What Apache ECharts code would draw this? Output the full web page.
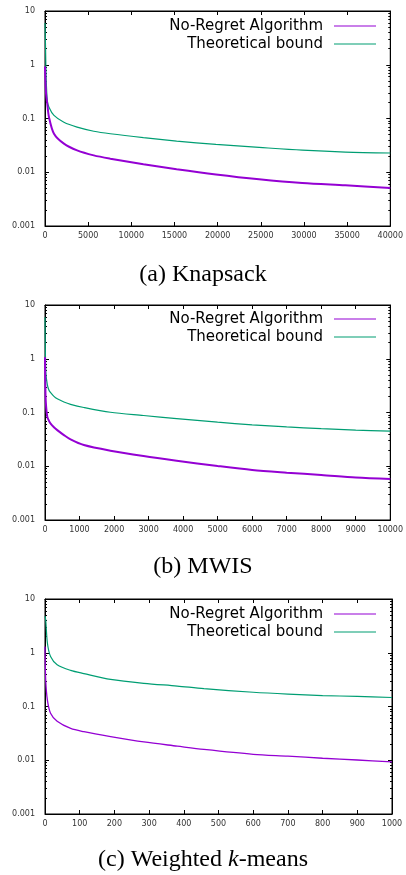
<!DOCTYPE html>
<html>
<head>
<meta charset="utf-8">
<script src="https://cdn.jsdelivr.net/npm/echarts@6/dist/echarts.min.js"></script>
<style>
  html, body { margin: 0; padding: 0; background: #fff; }
  #main { width: 406px; height: 875px; }
</style>
</head>
<body>
<div id="main"></div>
<script>
// (a) Knapsack
var knapT = [0, 60, 130, 265, 460, 1040, 2190, 3720, 5650, 7570, 11400, 15250, 19800, 24800, 29800, 34800, 40000];
var knapAlg = [0.93, 0.45, 0.28, 0.187, 0.106, 0.052, 0.034, 0.0255, 0.0206, 0.0179, 0.0141, 0.0114, 0.0091, 0.0074, 0.0063, 0.0057, 0.0051];
var knapBound = [6, 2.2, 0.6, 0.215, 0.162, 0.114, 0.085, 0.069, 0.058, 0.052, 0.044, 0.038, 0.033, 0.029, 0.0257, 0.0237, 0.0228];

// (b) MWIS
var mwisT = [0, 10, 25, 67, 115, 163, 259, 355, 548, 740, 1125, 1893, 2853, 3813, 5000, 6000, 7000, 8000, 9000, 10000];
var mwisAlg = [1.07, 0.3, 0.15, 0.083, 0.07, 0.062, 0.053, 0.047, 0.038, 0.0316, 0.0248, 0.0195, 0.0155, 0.0127, 0.0101, 0.0085, 0.0076, 0.0069, 0.0062, 0.0058];
var mwisBound = [5.9, 1.5, 0.55, 0.33, 0.26, 0.235, 0.2, 0.18, 0.157, 0.142, 0.124, 0.101, 0.088, 0.077, 0.066, 0.059, 0.054, 0.05, 0.047, 0.045];

// (c) Weighted k-means
var kmT = [0, 2, 7, 16, 35, 74, 112, 189, 285, 381, 458, 600, 700, 800, 900, 1000];
var kmAlg = [1.3, 0.31, 0.13, 0.075, 0.053, 0.039, 0.034, 0.0276, 0.0219, 0.0183, 0.0159, 0.0129, 0.0119, 0.0109, 0.0101, 0.0093];
var kmBound = [4.8, 4.1, 1.5, 0.85, 0.6, 0.47, 0.41, 0.32, 0.27, 0.24, 0.215, 0.184, 0.17, 0.16, 0.154, 0.147];

var seriesNames = ['No-Regret Algorithm', 'Theoretical bound'];
var xMax = [40000, 10000, 1000];
var xStep = [5000, 1000, 100];
var yMinorTicks = [];
[0.001, 0.01, 0.1, 1].forEach(function (d) {
	for (var k = 2; k <= 9; k++) yMinorTicks.push(Math.log10(d * k));
});
var captions = ['(a) Knapsack', '(b) MWIS', '(c) Weighted {i|k}-means'];

var panels = [
	{ t: knapT, alg: knapAlg, bound: knapBound },
	{ t: mwisT, alg: mwisAlg, bound: mwisBound },
	{ t: kmT, alg: kmAlg, bound: kmBound }
];

var gridTop = [11, 305, 599];
var legendTop = [18, 311, 606];
var captionTop = [263, 555, 848];

var myChart = echarts.init(document.getElementById('main'));

var tickFont = { fontFamily: 'DejaVu Sans', fontSize: 8, color: '#333' };

function pairs(t, v) {
	return t.map(function (x, i) { return [x, v[i]]; });
}

var grid = [], xAxis = [], yAxis = [], series = [], legend = [], title = [];

for (var g = 0; g < 3; g++) {
	grid.push({
		left: 45, right: 14, top: gridTop[g], height: 215,
		show: true, borderColor: '#000', borderWidth: 1
	});
	// bottom x
	xAxis.push({
		gridIndex: g, type: 'value', position: 'bottom',
		min: 0, max: xMax[g], interval: xStep[g],
		axisLine: { onZero: false, lineStyle: { color: '#000', width: 1 } },
		axisTick: { inside: true, length: 4, lineStyle: { color: '#000' } },
		axisLabel: Object.assign({
			margin: 6,
			formatter: function (v) { return String(v); }
		}, tickFont),
		splitLine: { show: false }
	});
	// top x (mirror ticks)
	xAxis.push({
		gridIndex: g, type: 'value', position: 'top',
		min: 0, max: xMax[g], interval: xStep[g],
		axisLine: { onZero: false, lineStyle: { color: '#000' } },
		axisTick: { inside: true, length: 4, lineStyle: { color: '#000' } },
		axisLabel: { show: false },
		splitLine: { show: false }
	});
	['left', 'right'].forEach(function (pos) {
		yAxis.push({
			gridIndex: g, type: 'log', logBase: 10, position: pos,
			min: 0.001, max: 10,
			axisLine: { show: true, onZero: false, lineStyle: { color: '#000' } },
			axisTick: { inside: true, length: 4, lineStyle: { color: '#000' } },
			axisLabel: pos === 'left' ? Object.assign({
				margin: 10,
				formatter: function (v) { return String(v); }
			}, tickFont) : { show: false },
			splitLine: { show: false }
		});
		// minor ticks at 2..9 of each decade
		yAxis.push({
			gridIndex: g, type: 'value', position: pos,
			min: -3, max: 1,
			axisLine: { show: false, onZero: false },
			axisTick: { inside: true, length: 2, customValues: yMinorTicks, lineStyle: { color: '#000' } },
			axisLabel: { show: false },
			splitLine: { show: false }
		});
	});

	var p = panels[g];
	series.push({
		name: seriesNames[0], type: 'line',
		xAxisIndex: g * 2, yAxisIndex: g * 4,
		data: pairs(p.t, p.alg),
		showSymbol: false, smooth: 0.3,
		color: '#9400d3',
		lineStyle: { color: '#9400d3', width: g < 2 ? 2 : 1.3 },
		z: 3
	});
	series.push({
		name: seriesNames[1], type: 'line',
		xAxisIndex: g * 2, yAxisIndex: g * 4,
		data: pairs(p.t, p.bound),
		showSymbol: false, smooth: 0.3,
		color: '#009e73',
		lineStyle: { color: '#009e73', width: 1.2 },
		z: 2
	});

	legend.push({
		data: seriesNames,
		orient: 'vertical', align: 'right',
		right: 30, top: legendTop[g], padding: 0,
		icon: 'rect', itemWidth: 42, itemHeight: 1.2, itemGap: 2,
		selectedMode: false,
		textStyle: { fontFamily: 'DejaVu Sans', fontSize: 15, lineHeight: 16, color: '#000', padding: [0, 6, 0, 0] }
	});

	title.push({
		text: captions[g],
		left: 'center', top: captionTop[g], padding: 0,
		textStyle: {
			fontFamily: 'Liberation Serif', fontSize: 24, fontWeight: 'normal', color: '#000',
			rich: { i: { fontFamily: 'Liberation Serif', fontSize: 24, fontStyle: 'italic', color: '#000' } }
		}
	});
}

option = {
	backgroundColor: '#fff',
	animation: false,
	title: title,
	legend: legend,
	grid: grid,
	xAxis: xAxis,
	yAxis: yAxis,
	series: series
};
myChart.setOption(option);
</script>
</body>
</html>
